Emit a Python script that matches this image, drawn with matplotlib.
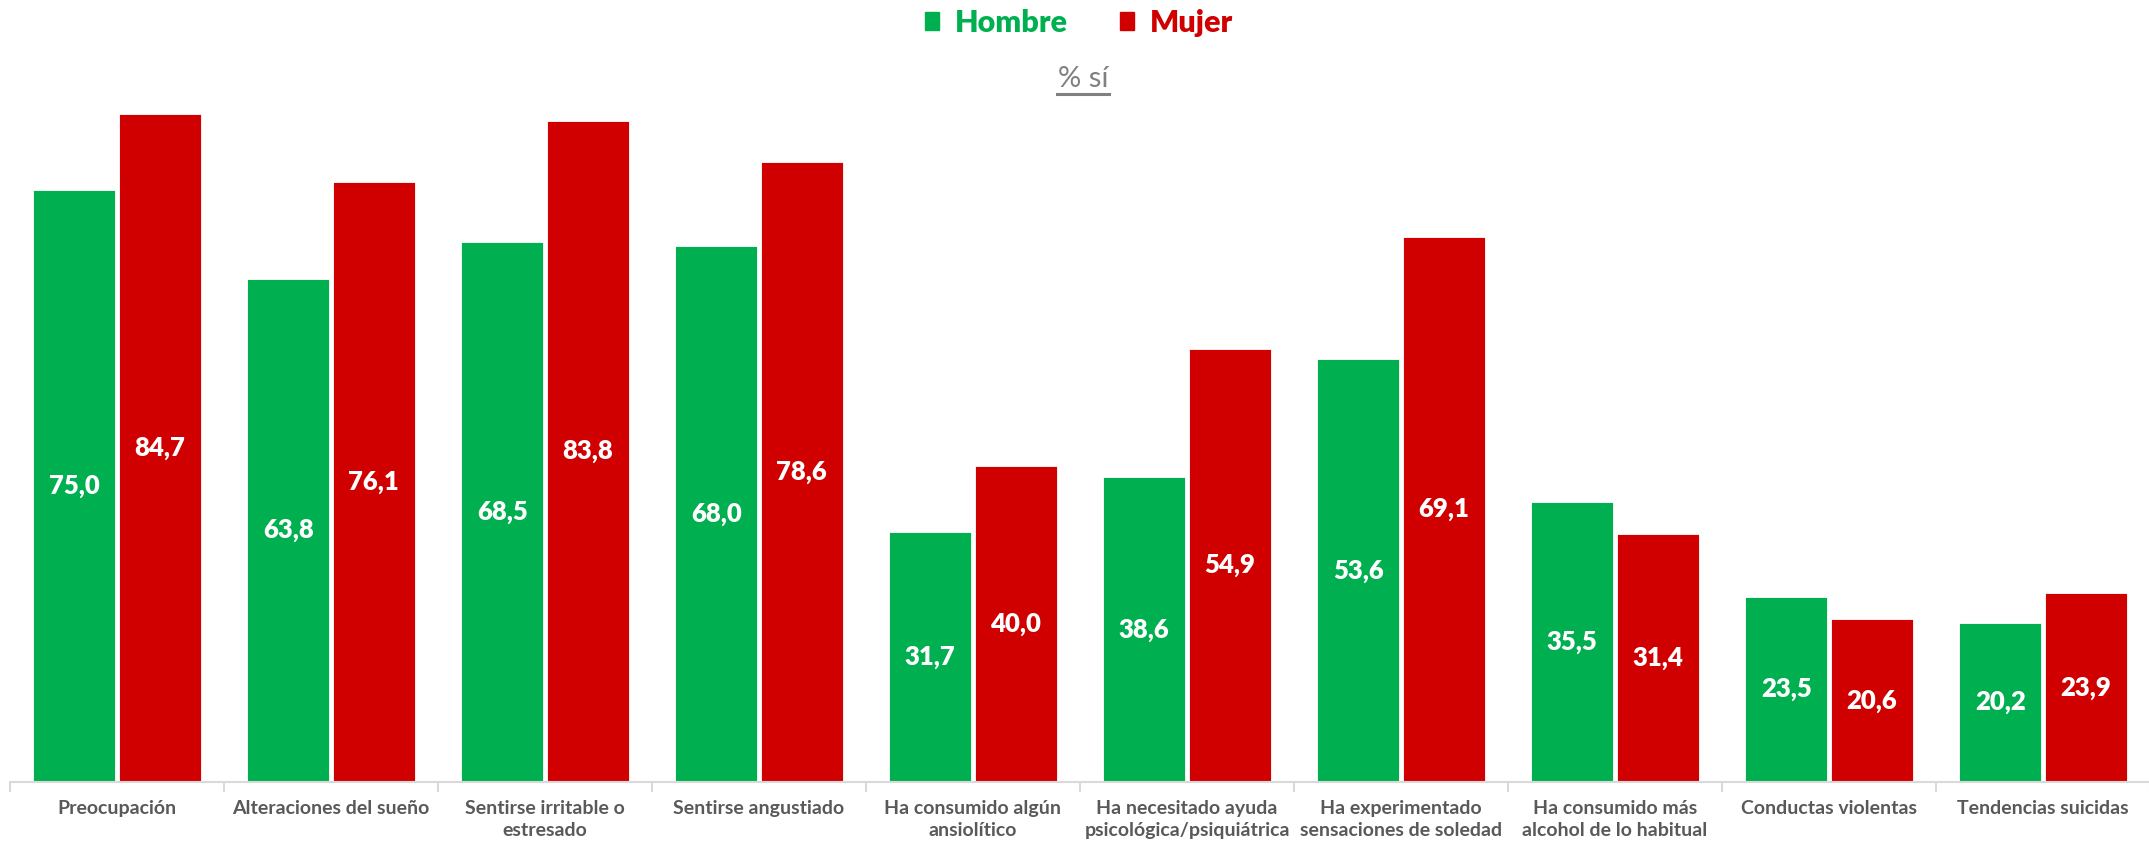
import matplotlib.pyplot as plt
from matplotlib.patches import Patch
from matplotlib.lines import Line2D
import numpy as np

plt.rcParams['font.family'] = ['Lato', 'DejaVu Sans']

categorias = ['Preocupación', 'Alteraciones del sueño', 'Sentirse irritable o\nestresado',
              'Sentirse angustiado', 'Ha consumido algún\nansiolítico',
              'Ha necesitado ayuda\npsicológica/psiquiátrica', 'Ha experimentado\nsensaciones de soledad',
              'Ha consumido más\nalcohol de lo habitual', 'Conductas violentas', 'Tendencias suicidas']
hombre = [75.0, 63.8, 68.5, 68.0, 31.7, 38.6, 53.6, 35.5, 23.5, 20.2]
mujer = [84.7, 76.1, 83.8, 78.6, 40.0, 54.9, 69.1, 31.4, 20.6, 23.9]

verde = '#00B050'
rojo = '#D00000'
gris = '#595959'

fig = plt.figure(figsize=(21.49, 8.47), dpi=100)
ax = fig.add_axes([10 / 2149, 65 / 847, 2140 / 2149, 710 / 847])

x = np.arange(len(categorias))
w = 0.382
b1 = ax.bar(x - 0.2, hombre, w, color=verde, edgecolor='white', linewidth=0.6)
b2 = ax.bar(x + 0.2, mujer, w, color=rojo, edgecolor='white', linewidth=0.6)

for bars, vals in [(b1, hombre), (b2, mujer)]:
    for b, v in zip(bars, vals):
        ax.text(b.get_x() + b.get_width() / 2, v / 2, f'{v:.1f}'.replace('.', ','),
                ha='center', va='center', color='white', fontsize=18.5, fontweight='heavy')

ax.set_xlim(-0.5, len(categorias) - 0.5)
ax.set_ylim(0, 90)
ax.set_yticks([])
for s in ['top', 'right', 'left']:
    ax.spines[s].set_visible(False)
ax.spines['bottom'].set_color('#D9D9D9')
ax.spines['bottom'].set_linewidth(1.5)

ax.set_xticks(x)
ax.set_xticklabels(categorias, fontsize=14, fontweight='bold', color=gris, linespacing=1.35)
ax.tick_params(axis='x', which='major', length=0, pad=13)
ax.set_xticks(np.arange(len(categorias) + 1) - 0.5, minor=True)
ax.tick_params(axis='x', which='minor', length=7, width=1.5, color='#D9D9D9')

handles = [Patch(color=verde), Patch(color=rojo)]
leg = fig.legend(handles, ['Hombre', 'Mujer'], loc='upper center', bbox_to_anchor=(0.502, 1.022),
                 ncol=2, frameon=False, handlelength=0.48, handleheight=0.48, handletextpad=0.5,
                 columnspacing=1.7, prop={'size': 22, 'weight': 'heavy'})
for t, c in zip(leg.get_texts(), [verde, rojo]):
    t.set_color(c)

fig.text(0.504, 1 - 79 / 847, '% sí', ha='center', va='center', fontsize=21, color='#808080')
fig.add_artist(Line2D([1057 / 2149, 1109 / 2149], [1 - 94 / 847, 1 - 94 / 847],
                      color='#808080', linewidth=2.2, transform=fig.transFigure))

fig.savefig('out.png', dpi=100)
